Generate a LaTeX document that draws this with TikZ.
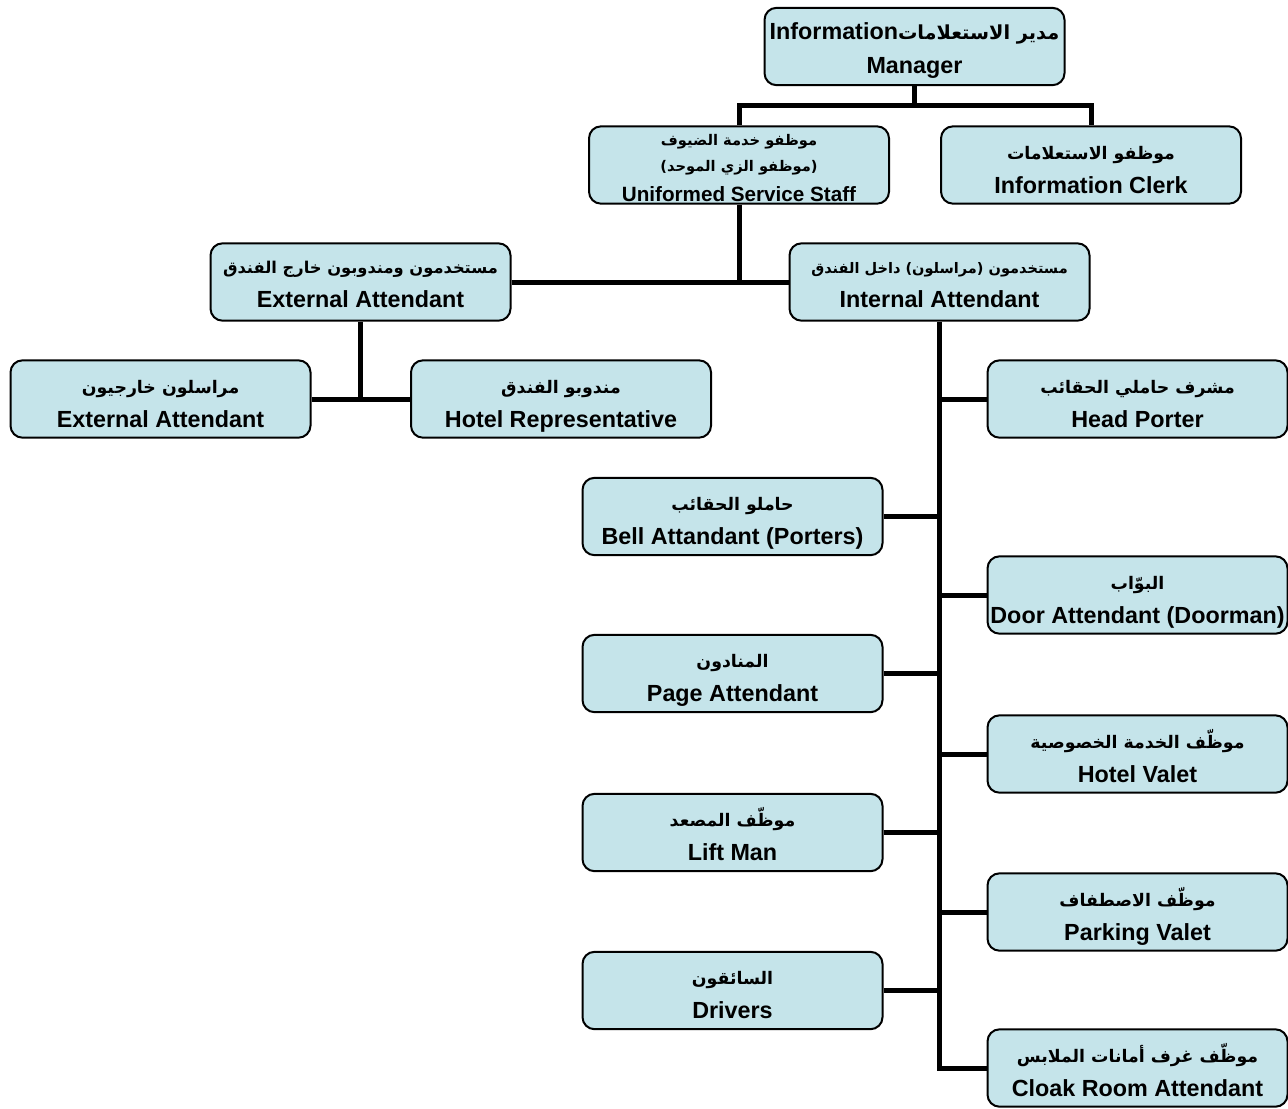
\documentclass[tikz,border=0pt]{standalone}
\usepackage{fontspec}
\setmainfont{Liberation Sans}
\newfontfamily\arabicfont[Script=Arabic]{DejaVu Sans}
\TeXXeTstate=1
\usepackage{tikz}
\usetikzlibrary{positioning}
\definecolor{boxblue}{RGB}{197,228,234}
\newcommand{\artext}[2][13]{{\arabicfont\bfseries\fontsize{#1}{#1}\selectfont\beginR #2\endR}}
\newcommand{\twoline}[3][13]{\rule{0pt}{21.5pt}\artext[#1]{#2}\\ #3\rule[-5pt]{0pt}{5pt}}

\begin{document}
\begin{tikzpicture}[x=0.75pt, y=-0.75pt,
	post/.style={rectangle, rounded corners=9pt, draw, line width=1.5pt, fill=boxblue, minimum width=225pt, minimum height=58pt, inner sep=0pt, align=center, font=\bfseries\fontsize{17.5}{25.5}\selectfont},
	link/.style={line width=3.75pt}]
	
	\useasboundingbox (0,0) rectangle (1288,1108);
	
	\node [post] (mgr) at (914.5,46.5) {\rule{0pt}{20pt}Information\artext[14.5]{مدير الاستعلامات}\\ Manager\rule[-5pt]{0pt}{5pt}};
	\node [post, font=\bfseries\fontsize{15.5}{19.5}\selectfont] (usrv) at (739,165) {\rule{0pt}{13pt}\artext[11]{موظفو خدمة الضيوف}\\ \artext[11]{(موظفو الزي الموحد)}\\[3pt] Uniformed Service Staff};
	\node [post] (clerk) at (1091,165) {\twoline{موظفو الاستعلامات}{Information Clerk}};
	\node [post] (ext) at (360.5,282) {\rule{0pt}{17pt}\artext[12.2]{مستخدمون ومندوبون خارج الفندق}\\ External Attendant\rule[-5pt]{0pt}{5pt}};
	\node [post] (int) at (939.5,282) {\rule{0pt}{17pt}\artext[10.9]{مستخدمون (مراسلون) داخل الفندق}\\ Internal Attendant\rule[-5pt]{0pt}{5pt}};
	\node [post] (extatt) at (160.5,399) {\twoline{مراسلون خارجيون}{External Attendant}};
	\node [post] (hrep) at (561,399) {\twoline{مندوبو الفندق}{Hotel Representative}};
	
	\foreach \i/\y/\a/\e in {1/399/مشرف حاملي الحقائب/Head Porter, 2/595/البوّاب/Door Attendant (Doorman), 3/754/موظّف الخدمة الخصوصية/Hotel Valet, 4/912/موظّف الاصطفاف/Parking Valet, 5/1068/موظّف غرف أمانات الملابس/Cloak Room Attendant} {
		\node [post] (r\i) at (1137.5,\y) {\twoline{\a}{\e}};
	}
	\foreach \i/\y/\a/\e in {1/516.5/حاملو الحقائب/Bell Attandant (Porters), 2/673.5/المنادون/Page Attendant, 3/832.5/موظّف المصعد/Lift Man, 4/990.5/السائقون/Drivers} {
		\node [post] (l\i) at (732.5,\y) {\twoline{\a}{\e}};
	}
	
	\coordinate (mj) at (914.5,105);
	\coordinate (uj) at (739,280);
	
	\draw [link] (mgr.south) -- (mj);
	\draw [link] (usrv.north) |- (mj) -| (clerk.north);
	\draw [link] (usrv.south) -- (uj);
	\draw [link] (ext.east) -- (int.west);
	\draw [link] (ext.south) -- (ext.south |- extatt.east);
	\draw [link] (extatt.east) -- (hrep.west);
	
	\draw [link] (int.south) -- (int.south |- r5.west) -- (r5.west);
	\foreach \i in {1,...,4}
		\draw [link] (int.south |- r\i.west) -- (r\i.west);
	\foreach \i in {1,...,4}
		\draw [link] (l\i.east) -- (l\i.east -| int.south);
	
\end{tikzpicture}
\end{document}
